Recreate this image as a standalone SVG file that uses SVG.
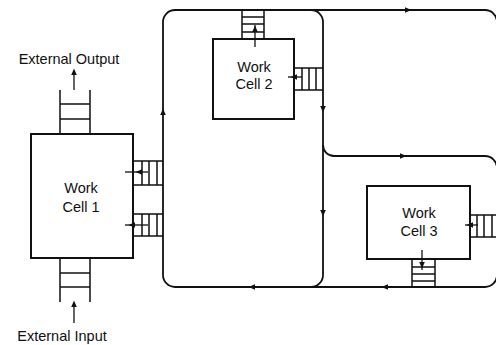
<svg xmlns="http://www.w3.org/2000/svg" xmlns:xlink="http://www.w3.org/1999/xlink" width="496" height="345" viewBox="0 0 496 345">
<style>
.box{fill:#fff;stroke:#111;stroke-width:2}
.conv{fill:none;stroke:#111;stroke-width:1.8}
.lad{fill:none;stroke:#111;stroke-width:1.5}
.arr{fill:none;stroke:#111;stroke-width:1.3}
.lbl{font-family:"Liberation Sans",Arial,sans-serif;font-size:14.5px;fill:#111}
.ah{fill:#111}
</style>
<defs>
<path id="ah" d="M3.5,0 L-3,-2.8 L-3,2.8 Z"/>
</defs>
<rect width="496" height="345" fill="#fff"/>
<g id="connectors">
<path class="conv" d="M175,10 H485 A12,12 0 0 1 497,22 V275 A12,12 0 0 1 485,287 H175 A12,12 0 0 1 163,275 V22 A12,12 0 0 1 175,10 Z"/>
<path class="conv" d="M311,10 A12,12 0 0 1 323,22 V275 A12,12 0 0 1 311,287"/>
<path class="conv" d="M323,145 A11,11 0 0 0 334,156 H485 A12,12 0 0 1 497,168"/>
<use href="#ah" class="ah" transform="translate(163,112) rotate(-90)"/>
<use href="#ah" class="ah" transform="translate(323,109) rotate(90)"/>
<use href="#ah" class="ah" transform="translate(323,213) rotate(90)"/>
<use href="#ah" class="ah" transform="translate(408,10)"/>
<use href="#ah" class="ah" transform="translate(403,156)"/>
<use href="#ah" class="ah" transform="translate(385,287) rotate(180)"/>
<use href="#ah" class="ah" transform="translate(252,287) rotate(180)"/>
</g>
<g id="ext-output">
<path class="lad" d="M60,90 V134 M90,90 V134 M60,104 H90 M60,119 H90"/>
<line class="arr" x1="74" y1="90" x2="74" y2="74"/>
<use href="#ah" class="ah" transform="translate(74,72) rotate(-90)"/>
<text class="lbl" x="69" y="64" text-anchor="middle">External Output</text>
</g>
<g id="ext-input">
<path class="lad" d="M60,258 V302 M90,258 V302 M60,273 H90 M60,287 H90"/>
<line class="arr" x1="74" y1="323" x2="74" y2="306"/>
<use href="#ah" class="ah" transform="translate(74,304) rotate(-90)"/>
<text class="lbl" x="62" y="341" text-anchor="middle">External Input</text>
</g>
<g id="cell1">
<rect class="box" x="31" y="134" width="102" height="124"/>
<path class="lad" d="M133,161 H163 M133,185 H163 M142,161 V185 M149,161 V185 M157,161 V185"/>
<path class="lad" d="M133,214 H163 M133,236 H163 M142,214 V236 M149,214 V236 M157,214 V236"/>
<line class="arr" x1="148" y1="172" x2="125" y2="172"/>
<use href="#ah" class="ah" transform="translate(139,172) rotate(180)"/>
<line class="arr" x1="148" y1="225" x2="125" y2="225"/>
<use href="#ah" class="ah" transform="translate(132,225) rotate(180)"/>
<text class="lbl" x="81" y="193" text-anchor="middle">Work</text>
<text class="lbl" x="81" y="212" text-anchor="middle">Cell 1</text>
</g>
<g id="cell2">
<rect class="box" x="213" y="39" width="81" height="80"/>
<path class="lad" d="M242,10 V39 M264,10 V39 M242,17 H264 M242,24 H264 M242,32 H264"/>
<line class="arr" x1="255" y1="47" x2="255" y2="25"/>
<use href="#ah" class="ah" transform="translate(255,29) rotate(-90)"/>
<path class="lad" d="M294,68 H323 M294,90 H323 M302,68 V90 M309,68 V90 M316,68 V90"/>
<line class="arr" x1="302" y1="77" x2="288" y2="77"/>
<use href="#ah" class="ah" transform="translate(294,77) rotate(180)"/>
<text class="lbl" x="254" y="72" text-anchor="middle">Work</text>
<text class="lbl" x="254" y="89" text-anchor="middle">Cell 2</text>
</g>
<g id="cell3">
<rect class="box" x="367" y="186" width="103" height="73"/>
<path class="lad" d="M470,215 H497 M470,237 H497 M477,215 V237 M484,215 V237 M492,215 V237"/>
<line class="arr" x1="478" y1="225" x2="465" y2="225"/>
<use href="#ah" class="ah" transform="translate(470,225) rotate(180)"/>
<path class="lad" d="M412,259 V287 M435,259 V287 M412,267 H435 M412,274 H435 M412,281 H435"/>
<line class="arr" x1="422" y1="250" x2="422" y2="270"/>
<use href="#ah" class="ah" transform="translate(422,265) rotate(90)"/>
<text class="lbl" x="419" y="218" text-anchor="middle">Work</text>
<text class="lbl" x="419" y="236" text-anchor="middle">Cell 3</text>
</g>
</svg>
